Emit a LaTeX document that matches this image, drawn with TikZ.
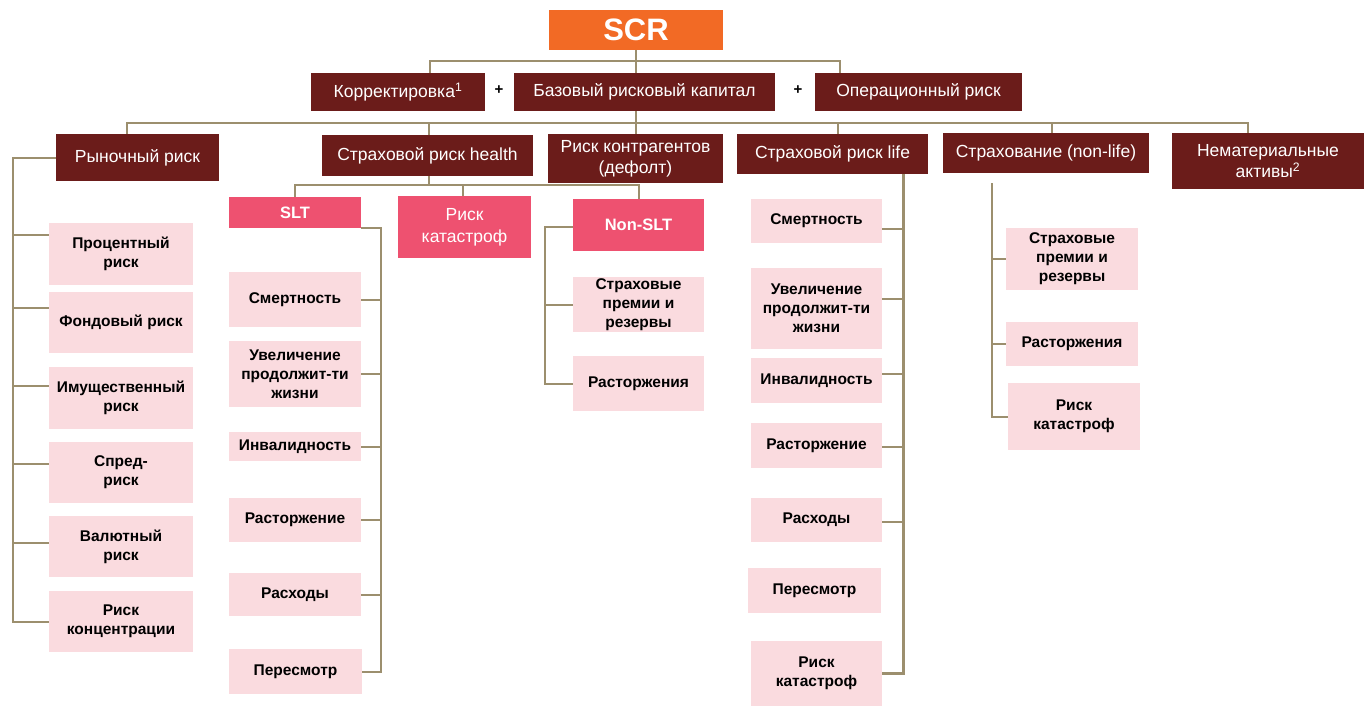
\documentclass[tikz,border=0pt]{standalone}
\usepackage{fontspec}
\setmainfont{Liberation Sans}

\definecolor{scrorange}{HTML}{F26A25}
\definecolor{maroon}{HTML}{6B1C1A}
\definecolor{pinkred}{HTML}{EE5170}
\definecolor{leafpink}{HTML}{FADBDF}
\definecolor{linec}{HTML}{9C8F6E}

\tikzset{
  sz/.style 2 args={minimum width=#1pt, minimum height=#2pt},
  link/.style={draw=linec, line width=2pt},
  scrbox/.style={fill=scrorange, text=white, inner sep=0pt, font=\bfseries\fontsize{31}{36}\selectfont},
  hdr/.style={fill=maroon, text=white, inner sep=0pt, align=center, font=\fontsize{17.5}{21}\selectfont},
  sub/.style={fill=pinkred, text=white, inner sep=0pt, align=center, font=\bfseries\fontsize{16.5}{20}\selectfont},
  leaf/.style={fill=leafpink, inner sep=0pt, align=center, font=\bfseries\fontsize{15.5}{19}\selectfont},
  plus/.style={inner sep=0pt, font=\bfseries\fontsize{15}{18}\selectfont}
}

\begin{document}
\begin{tikzpicture}[x=1pt,y=-1pt]
\useasboundingbox (0,0) rectangle (1364,706);

\node[scrbox, sz={174}{40}] (scr) at (636,30) {SCR};

\node[hdr, sz={174}{38}] (korr) at (398,92) {Корректировка\textsuperscript{1}};
\node[plus] (plusa) at (499,90) {+};
\node[hdr, sz={261}{38}] (base) at (644.5,92) {Базовый рисковый  капитал};
\node[plus] (plusb) at (798,90) {+};
\node[hdr, sz={207}{38}] (opr) at (918.5,92) {Операционный  риск};

\node[hdr, sz={163}{47}] (market) at (137.5,157.5) {Рыночный риск};
\node[hdr, sz={211}{41}] (health) at (427.5,155.5) {Страховой  риск health};
\node[hdr, sz={175}{49}] (cpty) at (635.5,158.5) {Риск контрагентов\\ (дефолт)};
\node[hdr, sz={191}{40}] (life) at (832.5,154) {Страховой  риск life};
\node[hdr, sz={206}{40}] (nonlife) at (1046,153) {Страхование  (non-life)};
\node[hdr, sz={192}{56}] (intang) at (1268,161) {Нематериальные\\ активы\textsuperscript{2}};

\node[leaf, sz={144}{62}] (m1) at (121,254) {Процентный\\риск};
\node[leaf, sz={144}{61}] (m2) at (121,322.5) {Фондовый риск};
\node[leaf, sz={144}{62}] (m3) at (121,398) {Имущественный\\риск};
\node[leaf, sz={144}{61}] (m4) at (121,472.5) {Спред-\\риск};
\node[leaf, sz={144}{61}] (m5) at (121,546.5) {Валютный\\риск};
\node[leaf, sz={144}{61}] (m6) at (121,621.5) {Риск\\концентрации};

\node[sub, sz={132}{31}] (slt) at (295,212.5) {SLT};
\node[sub, sz={133}{62}, font=\fontsize{17.5}{22}\selectfont] (hcat) at (464.5,227) {Риск\\катастроф};
\node[sub, sz={131}{52}] (nonslt) at (638.5,225) {Non-SLT};

\node[leaf, sz={132}{55}] (s1) at (295,299.5) {Смертность};
\node[leaf, sz={132}{66}] (s2) at (295,374) {Увеличение\\продолжит-ти\\жизни};
\node[leaf, sz={132}{29}] (s3) at (295,446.5) {Инвалидность};
\node[leaf, sz={132}{44}] (s4) at (295,520) {Расторжение};
\node[leaf, sz={132}{43}] (s5) at (295,594.5) {Расходы};
\node[leaf, sz={133}{45}] (s6) at (295.5,671.5) {Пересмотр};

\node[leaf, sz={131}{55}] (n1) at (638.5,304.5) {Страховые\\премии и\\резервы};
\node[leaf, sz={131}{55}] (n2) at (638.5,383.5) {Расторжения};

\node[leaf, sz={131}{44}] (l1) at (816.5,221) {Смертность};
\node[leaf, sz={131}{81}] (l2) at (816.5,308.5) {Увеличение\\продолжит-ти\\жизни};
\node[leaf, sz={131}{45}] (l3) at (816.5,380.5) {Инвалидность};
\node[leaf, sz={131}{45}] (l4) at (816.5,445.5) {Расторжение};
\node[leaf, sz={131}{44}] (l5) at (816.5,520) {Расходы};
\node[leaf, sz={133}{45}] (l6) at (814.5,590.5) {Пересмотр};
\node[leaf, sz={131}{65}] (l7) at (816.5,673.5) {Риск\\катастроф};

\node[leaf, sz={132}{62}] (f1) at (1072,259) {Страховые\\премии и\\резервы};
\node[leaf, sz={132}{44}] (f2) at (1072,344) {Расторжения};
\node[leaf, sz={132}{67}] (f3) at (1074,416.5) {Риск\\катастроф};

\draw[link] (scr.south) -- (scr.south |- base.north);
\draw[link] (korr.north -| 430,0) -- ++(0,-12) -| (opr.north -| 840,0);

\draw[link] (base.south -| scr.south) -- ++(0,12);
\draw[link] (market.north -| 127,0) -- ++(0,-11) -| (intang.north -| 1248,0);
\foreach \n/\x in {health/429, cpty/636, life/838, nonlife/1052}
  \draw[link] (\n.north -| \x,0) -- (\x,123);

\draw[link] (market.west) -- ++(-43,0) |- (m6.west);
\foreach \n/\d in {m1/19, m2/14.5, m3/12, m4/8.5, m5/3.5}
  \draw[link] ([yshift=\d pt]\n.west) -- ++(-36,0);

\draw[link] (health.south -| 429,0) -- ++(0,9);
\draw[link] (slt.north) -- ++(0,-12) -| (nonslt.north);
\draw[link] (hcat.north -| 463,0) -- ++(0,-11);

\draw[link] (slt.south east) -- ++(20,0) |- (s6.east);
\foreach \n in {s1,s2,s3,s4,s5}
  \draw[link] (\n.east) -- ++(20,0);

\draw[link] ([yshift=-2pt]nonslt.west) -- ++(-28,0) |- (n2.west);
\draw[link] (n1.west) -- ++(-28,0);

\draw[link, line width=3pt] (life.south -| 903,0) |- (l7.east);
\foreach \n/\d in {l1/-8, l2/9.5, l3/6.5, l4/-1.5, l5/-2}
  \draw[link] ([yshift=\d pt]\n.east) -- ++(21,0);

\coordinate (ftop) at (992,183);
\draw[link] (ftop) |- (f3.west);
\foreach \n in {f1,f2}
  \draw[link] (\n.west) -- (\n.west -| ftop);
\end{tikzpicture}
\end{document}
